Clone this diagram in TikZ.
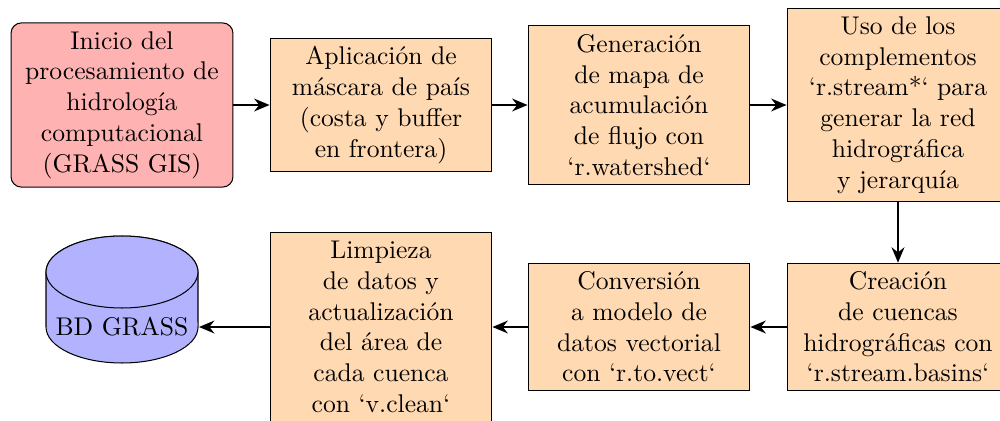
\documentclass[tikz,border=0pt]{standalone}
\usetikzlibrary{arrows.meta}
\begin{document}
\begin{tikzpicture}[x=0.390625pt,y=-0.390625pt,
  proc/.style={draw, fill=orange!30, text width=80pt, align=center, inner sep=3.333pt},
  startbox/.style={proc, fill=red!30, rounded corners=4pt},
  flow/.style={-{Stealth[length=6pt,width=5pt]}, thick},
  dbfill/.style={fill=blue!30, draw=black}]
\useasboundingbox (0,0) rectangle (1000,421);
% cylinder body
\filldraw[dbfill] (46,272) -- (46,327) arc[start angle=180, end angle=360, x radius=29.69pt, y radius=14.06pt]
  -- (198,272) arc[start angle=0, end angle=180, x radius=29.69pt, y radius=14.06pt] -- cycle;
\filldraw[dbfill] (122,272) ellipse[x radius=29.69pt, y radius=14.06pt];
\node[minimum width=59.77pt, inner sep=0pt] (db) at (122,327) {BD GRASS};

\node[startbox] (n1) at (122,105) {Inicio del\\procesamiento de\\hidrología\\computacional\\(GRASS GIS)};
\node[proc] (n2) at (381,105) {Aplicación de\\máscara de país\\(costa y buffer\\en frontera)};
\node[proc] (n3) at (639,105) {Generación\\de mapa de\\acumulación\\de flujo con\\`r.watershed`};
\node[proc] (n4) at (898,105) {Uso de los\\complementos\\`r.stream*` para\\generar la red\\hidrográfica\\y jerarquía};
\node[proc] (n5) at (898,327) {Creación\\de cuencas\\hidrográficas con\\`r.stream.basins`};
\node[proc] (n6) at (639,327) {Conversión\\a modelo de\\datos vectorial\\con `r.to.vect`};
\node[proc] (n7) at (381,327) {Limpieza\\de datos y\\actualización\\del área de\\cada cuenca\\con `v.clean`};

\draw[flow] (n1) -- (n2);
\draw[flow] (n2) -- (n3);
\draw[flow] (n3) -- (n4);
\draw[flow] (n4) -- (n5);
\draw[flow] (n5) -- (n6);
\draw[flow] (n6) -- (n7);
\draw[flow] (n7) -- (db);
\end{tikzpicture}
\end{document}
